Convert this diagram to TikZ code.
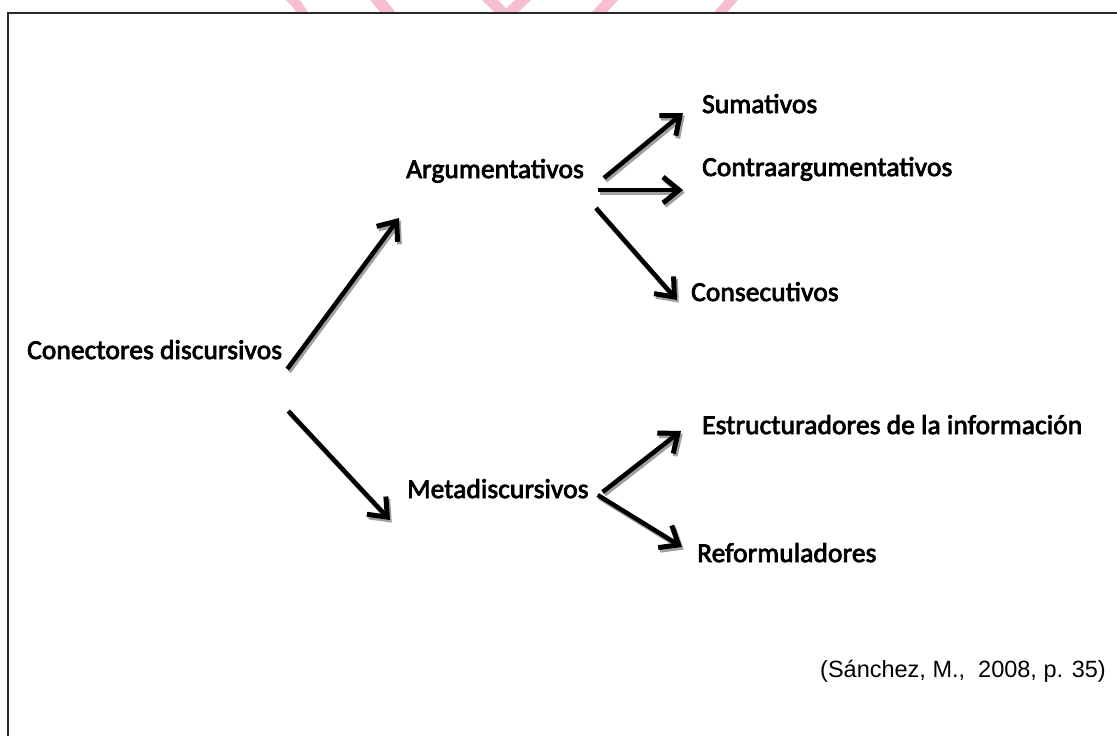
\documentclass[tikz,border=0pt]{standalone}
\usepackage{fontspec}
\setmainfont{Carlito}
\newfontfamily\lblfont{Carlito}[FakeBold=3, LetterSpace=0.6]
\newfontfamily\citefont{Liberation Sans}
\usetikzlibrary{arrows.meta}
\definecolor{wm}{RGB}{246,190,206}
\definecolor{framegray}{RGB}{40,40,40}
\definecolor{shadowgray}{RGB}{160,160,160}
\tikzset{
  lbl/.style={anchor=base west, inner sep=0pt, font=\lblfont\fontsize{27.3}{30}\selectfont},
  citelbl/.style={anchor=base west, inner sep=0pt, font=\citefont\fontsize{23.5}{28}\selectfont},
  conarrow/.style={line width=4.5pt, line cap=butt, -{Straight Barb[length=16pt, width=26pt, line width=5pt]},
    preaction={draw=shadowgray, line width=4.5pt, -{Straight Barb[length=16pt, width=26pt, line width=5pt]},
      transform canvas={shift={(1.8pt,-2.6pt)}}}},
}
\begin{document}
\begin{tikzpicture}[x=1pt, y=-1pt]
\useasboundingbox (0,0) rectangle (1117,736);
\clip (0,0) rectangle (1117,736);
% watermark fragments
\begin{scope}
\clip (0,0) rectangle (1117,12);
\draw[wm, line width=10pt] (286,-6) .. controls (296,2) .. (304,16);
\draw[wm, line width=12pt] (370,-10) -- (394,20);
\draw[wm, line width=11pt] (478,-12) -- (506,16) -- (536,-12);
\draw[wm, line width=11pt] (620,-10) -- (592,20);
\draw[wm, line width=10pt] (740,-10) -- (714,20);
\end{scope}
% frame
\draw[framegray, line width=2pt] (8,13) rectangle (1140,760);
% labels
\node[lbl] (conn) at (27,359) {Conectores discursivos};
\node[lbl] (arg) at (406,178) {Argumentativos};
\node[lbl] (meta) at (407,498) {Metadiscursivos};
\node[lbl] (sum) at (702,113) {Sumativos};
\node[lbl] (contra) at (702,176) {Contraargumentativos};
\node[lbl] (cons) at (691,301) {Consecutivos};
\node[lbl] (estr) at (702,434) {Estructuradores de la información};
\node[lbl] (refo) at (697,562) {Reformuladores};
\node[citelbl] (cite) at (820,677) {(Sánchez, M.,~~2008, p. 35)};
% connectors
\draw[conarrow] ([shift={(5,10)}]conn.base east) -- ([shift={(-7,40)}]arg.base west);
\draw[conarrow] ([shift={(6,52)}]conn.base east) -- ([shift={(-17,22)}]meta.base west);
\draw[conarrow] ([shift={(20,0)}]arg.base east) -- ([shift={(-19,0)}]sum.base west);
\draw[conarrow] ([shift={(14,12)}]arg.base east) -- ([shift={(-19,14)}]contra.base west);
\draw[conarrow] ([shift={(12,30)}]arg.base east) -- ([shift={(-14,-1)}]cons.base west);
\draw[conarrow] ([shift={(14,-6)}]meta.base east) -- ([shift={(-21,-3)}]estr.base west);
\draw[conarrow] ([shift={(9,-3)}]meta.base east) -- ([shift={(-15,-15)}]refo.base west);
\end{tikzpicture}
\end{document}
